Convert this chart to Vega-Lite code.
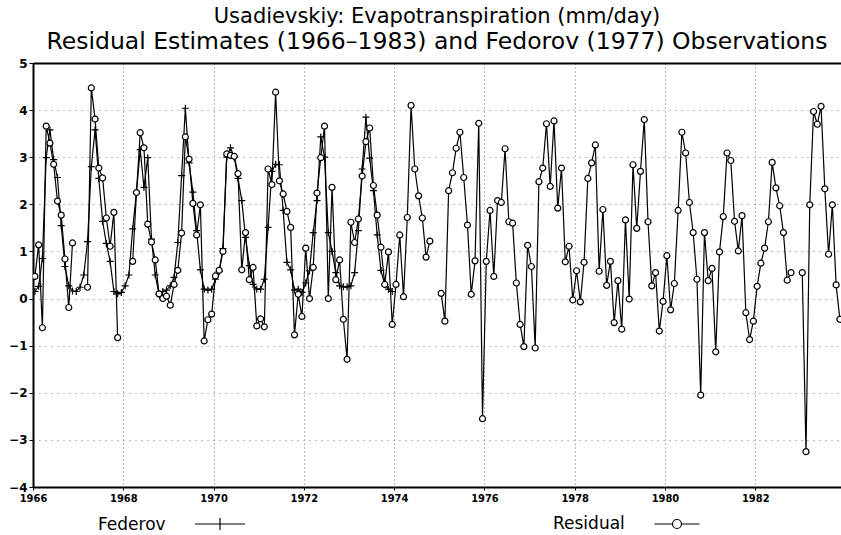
{
  "$schema": "https://vega.github.io/schema/vega-lite/v6.json",
  "width": 808,
  "height": 424,
  "autosize": {"type": "none"},
  "padding": {"left": 33, "top": 63, "right": 0, "bottom": 48},
  "background": "white",
  "config": {"view": {"stroke": null}, "font": "DejaVu Sans"},
  "title": {
    "text": "Usadievskiy: Evapotranspiration (mm/day)",
    "subtitle": "Residual Estimates (1966–1983) and Fedorov (1977) Observations",
    "font": "DejaVu Sans", "fontSize": 21, "fontWeight": "normal", "color": "black",
    "subtitleFont": "DejaVu Sans", "subtitleFontSize": 23.5, "subtitleFontWeight": "normal", "subtitleColor": "black",
    "subtitlePadding": 3,
    "anchor": "middle", "offset": 4
  },
  "data": {"values": [
    {"t":1966.042,"r":0.47,"f":0.15},{"t":1966.125,"r":1.14,"f":0.26},{"t":1966.208,"r":-0.62,"f":0.85},{"t":1966.292,"r":3.66,"f":2.99},{"t":1966.375,"r":3.30,"f":3.58},{"t":1966.458,"r":2.85,"f":2.95},{"t":1966.542,"r":2.07,"f":2.57},{"t":1966.625,"r":1.77,"f":1.55},{"t":1966.708,"r":0.84,"f":0.68},{"t":1966.792,"r":-0.19,"f":0.27},{"t":1966.875,"r":1.18,"f":0.16},{"t":1966.958,"r":null,"f":0.15},
    {"t":1967.042,"r":null,"f":0.24},{"t":1967.125,"r":null,"f":0.50},{"t":1967.208,"r":0.24,"f":1.21},{"t":1967.292,"r":4.47,"f":2.80},{"t":1967.375,"r":3.81,"f":3.58},{"t":1967.458,"r":2.77,"f":2.55},{"t":1967.542,"r":2.56,"f":1.64},{"t":1967.625,"r":1.71,"f":1.17},{"t":1967.708,"r":1.11,"f":0.79},{"t":1967.792,"r":1.83,"f":0.15},{"t":1967.875,"r":-0.83,"f":0.10},{"t":1967.958,"r":null,"f":0.13},
    {"t":1968.042,"r":null,"f":0.27},{"t":1968.125,"r":null,"f":0.50},{"t":1968.208,"r":0.79,"f":1.48},{"t":1968.292,"r":2.25,"f":2.26},{"t":1968.375,"r":3.52,"f":3.16},{"t":1968.458,"r":3.20,"f":2.36},{"t":1968.542,"r":1.58,"f":2.99},{"t":1968.625,"r":1.20,"f":1.26},{"t":1968.708,"r":0.82,"f":0.50},{"t":1968.792,"r":0.10,"f":0.09},{"t":1968.875,"r":0.00,"f":0.15},{"t":1968.958,"r":0.05,"f":0.18},
    {"t":1969.042,"r":-0.14,"f":0.27},{"t":1969.125,"r":0.30,"f":0.45},{"t":1969.208,"r":0.60,"f":1.19},{"t":1969.292,"r":1.39,"f":2.61},{"t":1969.375,"r":3.43,"f":4.04},{"t":1969.458,"r":2.96,"f":2.88},{"t":1969.542,"r":2.02,"f":2.26},{"t":1969.625,"r":1.35,"f":1.44},{"t":1969.708,"r":1.99,"f":0.61},{"t":1969.792,"r":-0.90,"f":0.20},{"t":1969.875,"r":-0.45,"f":0.18},{"t":1969.958,"r":-0.33,"f":0.20},
    {"t":1970.042,"r":0.48,"f":0.41},{"t":1970.125,"r":0.60,"f":0.57},{"t":1970.208,"r":1.00,"f":1.06},{"t":1970.292,"r":3.07,"f":3.00},{"t":1970.375,"r":3.04,"f":3.20},{"t":1970.458,"r":3.02,"f":3.00},{"t":1970.542,"r":2.65,"f":2.55},{"t":1970.625,"r":0.61,"f":2.08},{"t":1970.708,"r":1.40,"f":1.30},{"t":1970.792,"r":0.40,"f":0.70},{"t":1970.875,"r":0.66,"f":0.30},{"t":1970.958,"r":-0.58,"f":0.20},
    {"t":1971.042,"r":-0.43,"f":0.20},{"t":1971.125,"r":-0.60,"f":0.41},{"t":1971.208,"r":2.75,"f":1.51},{"t":1971.292,"r":2.42,"f":2.70},{"t":1971.375,"r":4.38,"f":2.85},{"t":1971.458,"r":2.50,"f":2.84},{"t":1971.542,"r":2.22,"f":1.87},{"t":1971.625,"r":1.85,"f":0.77},{"t":1971.708,"r":1.51,"f":0.61},{"t":1971.792,"r":-0.77,"f":0.18},{"t":1971.875,"r":0.09,"f":0.20},{"t":1971.958,"r":-0.38,"f":0.13},
    {"t":1972.042,"r":1.07,"f":0.33},{"t":1972.125,"r":0.00,"f":0.59},{"t":1972.208,"r":0.66,"f":1.40},{"t":1972.292,"r":2.24,"f":2.08},{"t":1972.375,"r":2.99,"f":3.43},{"t":1972.458,"r":3.66,"f":3.00},{"t":1972.542,"r":0.00,"f":1.40},{"t":1972.625,"r":2.36,"f":1.00},{"t":1972.708,"r":0.40,"f":0.55},{"t":1972.792,"r":0.82,"f":0.27},{"t":1972.875,"r":-0.44,"f":0.25},{"t":1972.958,"r":-1.29,"f":0.25},
    {"t":1973.042,"r":1.62,"f":0.27},{"t":1973.125,"r":1.19,"f":0.55},{"t":1973.208,"r":1.69,"f":1.44},{"t":1973.292,"r":2.60,"f":2.75},{"t":1973.375,"r":3.33,"f":3.85},{"t":1973.458,"r":3.62,"f":2.98},{"t":1973.542,"r":2.40,"f":2.29},{"t":1973.625,"r":1.77,"f":1.35},{"t":1973.708,"r":1.09,"f":0.60},{"t":1973.792,"r":0.30,"f":0.30},{"t":1973.875,"r":0.99,"f":0.20},{"t":1973.958,"r":-0.55,"f":0.15},
    {"t":1974.042,"r":0.30},{"t":1974.125,"r":1.35},{"t":1974.208,"r":0.04},{"t":1974.292,"r":1.72},{"t":1974.375,"r":4.10},{"t":1974.458,"r":2.75},{"t":1974.542,"r":2.18},{"t":1974.625,"r":1.71},{"t":1974.708,"r":0.88},{"t":1974.792,"r":1.22},{"t":1974.875,"r":null},{"t":1974.958,"r":null},
    {"t":1975.042,"r":0.11},{"t":1975.125,"r":-0.48},{"t":1975.208,"r":2.29},{"t":1975.292,"r":2.67},{"t":1975.375,"r":3.19},{"t":1975.458,"r":3.53},{"t":1975.542,"r":2.57},{"t":1975.625,"r":1.56},{"t":1975.708,"r":0.09},{"t":1975.792,"r":0.80},{"t":1975.875,"r":3.72},{"t":1975.958,"r":-2.55},
    {"t":1976.042,"r":0.79},{"t":1976.125,"r":1.87},{"t":1976.208,"r":0.47},{"t":1976.292,"r":2.08},{"t":1976.375,"r":2.04},{"t":1976.458,"r":3.18},{"t":1976.542,"r":1.63},{"t":1976.625,"r":1.60},{"t":1976.708,"r":0.33},{"t":1976.792,"r":-0.55},{"t":1976.875,"r":-1.02},{"t":1976.958,"r":1.13},
    {"t":1977.042,"r":0.68},{"t":1977.125,"r":-1.05},{"t":1977.208,"r":2.48},{"t":1977.292,"r":2.77},{"t":1977.375,"r":3.71},{"t":1977.458,"r":2.38},{"t":1977.542,"r":3.77},{"t":1977.625,"r":1.92},{"t":1977.708,"r":2.77},{"t":1977.792,"r":0.78},{"t":1977.875,"r":1.11},{"t":1977.958,"r":-0.03},
    {"t":1978.042,"r":0.59},{"t":1978.125,"r":-0.07},{"t":1978.208,"r":0.77},{"t":1978.292,"r":2.55},{"t":1978.375,"r":2.88},{"t":1978.458,"r":3.26},{"t":1978.542,"r":0.58},{"t":1978.625,"r":1.89},{"t":1978.708,"r":0.28},{"t":1978.792,"r":0.79},{"t":1978.875,"r":-0.51},{"t":1978.958,"r":0.38},
    {"t":1979.042,"r":-0.65},{"t":1979.125,"r":1.67},{"t":1979.208,"r":-0.01},{"t":1979.292,"r":2.84},{"t":1979.375,"r":1.49},{"t":1979.458,"r":2.70},{"t":1979.542,"r":3.80},{"t":1979.625,"r":1.63},{"t":1979.708,"r":0.27},{"t":1979.792,"r":0.55},{"t":1979.875,"r":-0.69},{"t":1979.958,"r":-0.06},
    {"t":1980.042,"r":0.91},{"t":1980.125,"r":-0.24},{"t":1980.208,"r":0.32},{"t":1980.292,"r":1.87},{"t":1980.375,"r":3.53},{"t":1980.458,"r":3.09},{"t":1980.542,"r":2.04},{"t":1980.625,"r":1.40},{"t":1980.708,"r":0.41},{"t":1980.792,"r":-2.05},{"t":1980.875,"r":1.40},{"t":1980.958,"r":0.38},
    {"t":1981.042,"r":0.64},{"t":1981.125,"r":-1.13},{"t":1981.208,"r":0.99},{"t":1981.292,"r":1.74},{"t":1981.375,"r":3.09},{"t":1981.458,"r":2.93},{"t":1981.542,"r":1.64},{"t":1981.625,"r":1.01},{"t":1981.708,"r":1.76},{"t":1981.792,"r":-0.30},{"t":1981.875,"r":-0.87},{"t":1981.958,"r":-0.48},
    {"t":1982.042,"r":0.26},{"t":1982.125,"r":0.75},{"t":1982.208,"r":1.07},{"t":1982.292,"r":1.63},{"t":1982.375,"r":2.89},{"t":1982.458,"r":2.35},{"t":1982.542,"r":1.97},{"t":1982.625,"r":1.40},{"t":1982.708,"r":0.39},{"t":1982.792,"r":0.55},{"t":1982.875,"r":null},{"t":1982.958,"r":null},
    {"t":1983.042,"r":0.55},{"t":1983.125,"r":-3.25},{"t":1983.208,"r":1.99},{"t":1983.292,"r":3.97},{"t":1983.375,"r":3.70},{"t":1983.458,"r":4.08},{"t":1983.542,"r":2.33},{"t":1983.625,"r":0.94},{"t":1983.708,"r":1.99},{"t":1983.792,"r":0.29},{"t":1983.875,"r":-0.44}
  ]},
  "layer": [
    {
      "mark": {"type": "line", "color": "black", "strokeWidth": 1.2, "clip": true, "invalid": "break-paths-show-domains"},
      "encoding": {
        "x": {"field": "t", "type": "quantitative",
          "scale": {"domain": [1966, 1983.9], "nice": false, "zero": false},
          "axis": {"values": [1966, 1968, 1970, 1972, 1974, 1976, 1978, 1980, 1982], "format": "d", "title": null,
            "labelFont": "DejaVu Sans Condensed", "labelFontWeight": "bold", "labelFontSize": 11, "labelColor": "black",
            "labelPadding": 2, "tickSize": 3, "tickColor": "black", "domainColor": "black", "domainWidth": 2,
            "grid": true, "gridColor": "#777777", "gridDash": [1, 3], "gridWidth": 1, "labelFlush": false}},
        "y": {"field": "f", "type": "quantitative",
          "scale": {"domain": [-4, 5], "nice": false, "zero": false},
          "axis": {"values": [-4, -3, -2, -1, 0, 1, 2, 3, 4, 5], "title": null,
            "labelFont": "DejaVu Sans", "labelFontWeight": "bold", "labelFontSize": 12, "labelColor": "black",
            "labelPadding": 2, "tickSize": 4, "tickColor": "black", "domainColor": "black", "domainWidth": 2,
            "grid": true, "gridColor": "#777777", "gridDash": [1, 5], "gridWidth": 1}}
      }
    },
    {
      "transform": [{"filter": "isValid(datum.f)"}],
      "mark": {"type": "point", "shape": "M-1,0L1,0M0,-1L0,1", "size": 49, "filled": false, "strokeWidth": 1.2, "opacity": 1, "clip": true},
      "encoding": {
        "x": {"field": "t", "type": "quantitative", "axis": {"orient": "top", "labels": false, "ticks": false, "grid": false, "domainColor": "black", "domainWidth": 2, "title": null}},
        "y": {"field": "f", "type": "quantitative"},
        "stroke": {"datum": "Federov", "scale": {"domain": ["Federov"], "range": ["black"]},
          "legend": {"orient": "none", "legendX": 65, "legendY": 455, "title": "Federov", "titleOrient": "left",
            "titleFont": "DejaVu Sans", "titleFontSize": 17, "titleFontWeight": "normal", "titleColor": "black", "titlePadding": 48,
            "titleAnchor": "middle", "titleBaseline": "middle",
            "symbolType": "M-5,0L5,0M0,-1.2L0,1.2", "symbolSize": 100, "symbolStrokeWidth": 1.2,
            "labelExpr": "''", "labelFontSize": 1}}
      }
    },
    {
      "mark": {"type": "line", "color": "black", "strokeWidth": 1.2, "clip": true, "invalid": "break-paths-show-domains"},
      "encoding": {
        "x": {"field": "t", "type": "quantitative", "axis": null},
        "y": {"field": "r", "type": "quantitative"}
      }
    },
    {
      "transform": [{"filter": "isValid(datum.r)"}],
      "mark": {"type": "point", "shape": "circle", "size": 36, "filled": true, "fill": "white", "strokeWidth": 1.2, "opacity": 1, "clip": true},
      "encoding": {
        "x": {"field": "t", "type": "quantitative", "axis": null},
        "y": {"field": "r", "type": "quantitative"},
        "stroke": {"datum": "Residual", "scale": {"domain": ["Residual"], "range": ["black"]},
          "legend": {"orient": "none", "legendX": 520, "legendY": 455, "title": "Residual", "titleOrient": "left",
            "titleFont": "DejaVu Sans", "titleFontSize": 17, "titleFontWeight": "normal", "titleColor": "black", "titlePadding": 46,
            "titleAnchor": "middle", "titleBaseline": "middle",
            "symbolType": "M-4.5,0L-0.9,0M0.9,0L4.5,0M-0.9,0A0.9,0.9,0,1,0,0.9,0A0.9,0.9,0,1,0,-0.9,0Z", "symbolSize": 100, "symbolStrokeWidth": 1.2,
            "labelExpr": "''", "labelFontSize": 1}}
      }
    }
  ],
  "resolve": {"scale": {"stroke": "independent"}, "legend": {"stroke": "independent"}, "axis": {"x": "independent"}}
}
